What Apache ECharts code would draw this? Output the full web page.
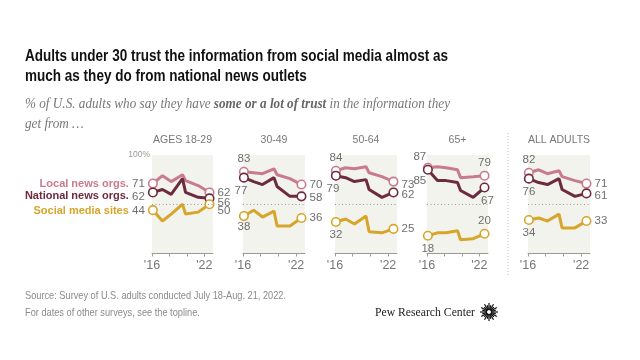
<!DOCTYPE html>
<html><head><meta charset="utf-8">
<script src="https://cdn.jsdelivr.net/npm/echarts@6/dist/echarts.min.js"></script>
<style>html,body{margin:0;padding:0;background:#fff}#c{width:640px;height:360px}</style>
</head><body><div id="c"></div>
<script>
// ---------- data ----------
const dates = [2016.1, 2017.2, 2018.2, 2019.5, 2019.85, 2021.3, 2022.6];
const panels = ['AGES 18-29', '30-49', '50-64', '65+', 'ALL ADULTS'];
const seriesNames = ['Local news orgs.', 'National news orgs.', 'Social media sites'];
const local = [
  [71, 79, 73, 80, 74, 69, 62],
  [83, 82, 81, 86, 80, 76, 70],
  [84, 87, 86, 88, 82, 78, 73],
  [87, 88, 87, 85, 77, 78, 79],
  [82, 85, 81, 84, 78, 74, 71]
];
const national = [
  [62, 65, 60, 76, 62, 57, 56],
  [77, 73, 70, 77, 68, 58, 58],
  [79, 77, 73, 75, 65, 57, 62],
  [85, 74, 74, 72, 64, 57, 67],
  [76, 72, 70, 76, 65, 58, 61]
];
const social = [
  [44, 33, 40, 50, 40, 42, 50],
  [38, 44, 37, 43, 28, 28, 36],
  [32, 35, 30, 38, 22, 21, 25],
  [18, 21, 21, 23, 14, 15, 20],
  [34, 36, 33, 40, 26, 26, 33]
];
const xTicks = [2016, 2018, 2020, 2022];
const xLabelTicks = [2016, 2022];
const refLine = 50;

// ---------- layout / style ----------
const allData = [local, national, social];
const gridLeft = [152, 243, 335, 427, 528];
const gridW = [61, 62, 62, 61, 62];
const GT = 155, GH = 98.5;
const colors = ['#c97b8e', '#6e2a3e', '#d6a52a'];
const numColor = '#6e6e6e';
const FONT = '"Liberation Sans", Arial, sans-serif';

const P = (pos, off) => ({pos, off: off || [0, 0]});
const place = [
  [[P('left', [0, 0]), P('right', [0, 0])], [P('left', [0, 4]), P('right', [0, 4])], [P('left', [0, 1]), P('right', [0, 7])]],
  [[P('top'), P('right')], [P('bottom', [-3, 0]), P('right', [0, 1])], [P('bottom', [0, -2]), P('right')]],
  [[P('top'), P('right', [0, 3])], [P('bottom', [-3, 0]), P('right', [0, 2])], [P('bottom'), P('right')]],
  [[P('top', [-8, 2]), P('top')], [P('bottom', [-8, -2]), P('bottom', [3, 0])], [P('bottom'), P('top')]],
  [[P('top'), P('right')], [P('bottom'), P('right', [0, 2])], [P('bottom'), P('right')]]
];

const grids = [], xAxes = [], yAxes = [], series = [];
for (let p = 0; p < 5; p++) {
  grids.push({left: gridLeft[p], top: GT, width: gridW[p], height: GH, show: true,
    backgroundColor: '#f3f3ee', borderWidth: 0});
  xAxes.push({type: 'value', gridIndex: p, min: 2016, max: 2023,
    axisLine: {show: true, onZero: false, lineStyle: {color: '#9a9a9a', width: 1}},
    axisTick: {show: true, customValues: xTicks, length: 3, lineStyle: {color: '#9a9a9a'}},
    axisLabel: {customValues: xLabelTicks, formatter: v => "'" + String(v).slice(2),
      fontSize: 12.5, color: '#777', margin: 6, fontFamily: FONT},
    splitLine: {show: false}});
  yAxes.push({type: 'value', gridIndex: p, min: 0, max: 100,
    axisLine: {show: false}, axisTick: {show: false}, splitLine: {show: false},
    axisLabel: p === 0 ? {customValues: [100], formatter: () => '100%', fontSize: 8.5,
      color: '#999', margin: 2, fontFamily: FONT} : {show: false}});
  for (let s = 0; s < 3; s++) {
    const vals = allData[s][p];
    const data = vals.map((v, i) => {
      const isStart = i === 0, isEnd = i === vals.length - 1;
      if (!isStart && !isEnd) return {value: [dates[i], v], symbol: 'none'};
      const pl = place[p][s][isStart ? 0 : 1];
      const side = pl.pos === 'left' || pl.pos === 'right';
      const lab = {show: true, position: pl.pos, offset: pl.off, distance: side ? 3 : 2,
        color: numColor, fontSize: 11.5, fontFamily: FONT};
      if (p === 0 && isStart) {
        lab.formatter = '{n|' + seriesNames[s] + '} {v|' + v + '}';
        lab.rich = {n: {color: colors[s], fontWeight: 'bold', fontSize: 11, fontFamily: FONT},
          v: {color: numColor, fontSize: 11.5, fontFamily: FONT}};
      } else {
        lab.formatter = String(v);
      }
      return {value: [dates[i], v], symbol: 'circle', symbolSize: 8.5,
        itemStyle: {color: '#fff', borderColor: colors[s], borderWidth: 1.6}, label: lab};
    });
    const ser = {type: 'line', xAxisIndex: p, yAxisIndex: p, data, showSymbol: true,
      lineStyle: {color: colors[s], width: 3}, itemStyle: {color: colors[s]},
      emphasis: {disabled: true}, animation: false, z: 2};
    if (s === 2) {
      ser.markLine = {silent: true, symbol: ['none', 'none'], label: {show: false},
        lineStyle: {type: [1, 2.5], color: '#999', width: 1}, data: [{yAxis: refLine}], animation: false};
    }
    series.push(ser);
  }
}

// ---------- text helpers ----------
const ctx = document.createElement('canvas').getContext('2d');
function measure(t, f) { ctx.font = f; return ctx.measureText(t).width; }

const titleFont = 'bold 16px "Liberation Sans Narrow", "Liberation Sans", Arial, sans-serif';
const title1 = 'Adults under 30 trust the information from social media almost as';
const title2 = 'much as they do from national news outlets';
const tScale = 423 / measure(title1, titleFont);

const subFontI = 'italic 14.5px "Liberation Serif", serif';
const subFontB = 'italic bold 14.5px "Liberation Serif", serif';
const s1a = '% of U.S. adults who say they have ', s1b = 'some or a lot of trust', s1c = ' in the information they';
const s2 = 'get from \u2026';
const sScale = 425 / (measure(s1a, subFontI) + measure(s1b, subFontB) + measure(s1c, subFontI));

const footFont = '10.5px "Liberation Sans", Arial, sans-serif';
const foot1 = 'Source: Survey of U.S. adults conducted July 18-Aug. 21, 2022.';
const foot2 = 'For dates of other surveys, see the topline.';
const fScale = 261 / measure(foot1, footFont);

const pewFont = '13.5px "Liberation Serif", serif';
const pewText = 'Pew Research Center';
const pScale = 100 / measure(pewText, pewFont);

const graphics = [
  {type: 'text', x: 25, y: 57, scaleX: tScale, style: {text: title1, font: titleFont, fill: '#111', verticalAlign: 'middle'}},
  {type: 'text', x: 25, y: 77, scaleX: tScale, style: {text: title2, font: titleFont, fill: '#111', verticalAlign: 'middle'}},
  {type: 'text', x: 25, y: 104, scaleX: sScale, style: {
    text: '{a|' + s1a + '}{b|' + s1b + '}{a|' + s1c + '}', verticalAlign: 'middle',
    rich: {a: {font: subFontI, fill: '#777'}, b: {font: subFontB, fill: '#666'}}}},
  {type: 'text', x: 25, y: 124, scaleX: sScale, style: {text: s2, font: subFontI, fill: '#777', verticalAlign: 'middle'}},
  {type: 'text', x: 25, y: 296, scaleX: fScale, style: {text: foot1, font: footFont, fill: '#8a8a8a', verticalAlign: 'middle'}},
  {type: 'text', x: 25, y: 313, scaleX: fScale, style: {text: foot2, font: footFont, fill: '#8a8a8a', verticalAlign: 'middle'}},
  {type: 'text', x: 375, y: 312, scaleX: pScale, style: {text: pewText, font: pewFont, fill: '#222', verticalAlign: 'middle'}},
  {type: 'line', shape: {x1: 508, y1: 133, x2: 508, y2: 276}, style: {stroke: '#c4c4c4', lineWidth: 1, lineDash: [1, 2]}}
];
for (let p = 0; p < 5; p++) {
  graphics.push({type: 'text', x: gridLeft[p] + gridW[p] / 2, y: 140,
    style: {text: panels[p], font: '10.5px ' + FONT, fill: '#777', align: 'center', verticalAlign: 'middle'}});
}
// logo sunburst
const LX = 489, LY = 312;
for (let k = 0; k < 24; k++) {
  const a = k * Math.PI / 12;
  const r2 = (k % 2 === 0) ? 9 : 7;
  graphics.push({type: 'line', shape: {x1: LX + 2 * Math.cos(a), y1: LY + 2 * Math.sin(a), x2: LX + r2 * Math.cos(a), y2: LY + r2 * Math.sin(a)},
    style: {stroke: '#111', lineWidth: 1.2}});
}

const chart = echarts.init(document.getElementById('c'), null, {renderer: 'canvas'});
chart.setOption({
  animation: false,
  backgroundColor: '#fff',
  grid: grids, xAxis: xAxes, yAxis: yAxes, series,
  graphic: {elements: graphics}
});
</script></body></html>
